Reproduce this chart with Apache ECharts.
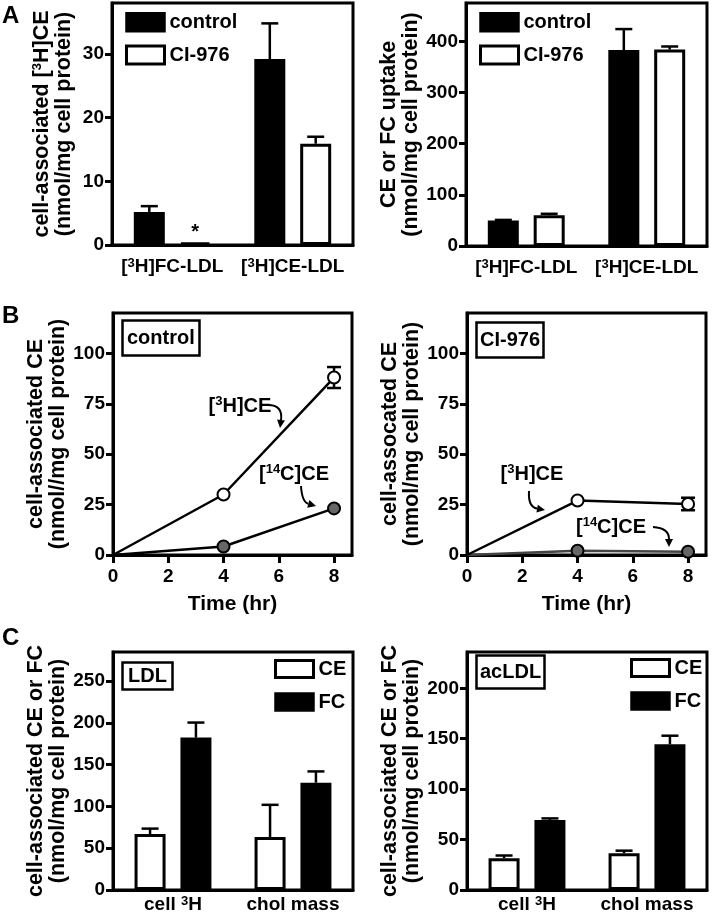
<!DOCTYPE html>
<html><head><meta charset="utf-8">
<script src="https://cdn.jsdelivr.net/npm/echarts@6/dist/echarts.min.js"></script>
<style>html,body{margin:0;padding:0;background:#fff}#c{width:714px;height:916px}</style>
</head><body><div id="c"></div>
<script>
// ---------------- data ----------------
const catsA = ['[^3H]FC-LDL', '[^3H]CE-LDL'];
const a1Control = [5.2, 29.2];
const a1ControlSem = [0.9, 5.6];
const a1CI = [0.4, 15.9];
const a1CISem = [0, 1.1];
const a1Ticks = [0, 10, 20, 30];

const a2Control = [50, 383];
const a2ControlSem = [1, 41];
const a2CI = [60, 384];
const a2CISem = [3, 6];
const a2Ticks = [0, 100, 200, 300, 400];

const timesB = [0, 4, 8];
const bXTicks = [0, 2, 4, 6, 8];
const bYTicks = [0, 25, 50, 75, 100];
const b1H3 = [0, 30, 88];
const b1H3Sem = [0, 0, 5.2];
const b1C14 = [0, 4.2, 23.1];
const b2H3 = [0, 27, 25.3];
const b2H3Sem = [0, 0, 3.1];
const b2C14 = [0, 2.1, 1.6];

const catsC = ['cell ^3H', 'chol mass'];
const c1CE = [67, 63.5];
const c1CESem = [6.5, 38.5];
const c1FC = [182.5, 128.5];
const c1FCSem = [18, 13.5];
const c1Ticks = [0, 50, 100, 150, 200, 250];
const c2CE = [31.5, 36.5];
const c2CESem = [2.7, 2.5];
const c2FC = [69.5, 144.5];
const c2FCSem = [1.5, 8.5];
const c2Ticks = [0, 50, 100, 150, 200];

// ---------------- style ----------------
const FONT = 'Liberation Sans, Arial, Helvetica, sans-serif';
const BAR_W = 31, BAR_GAP = 0.48;
const OFF = BAR_W * (1 + BAR_GAP) / 2;
const sup = s => s.replace(/\^(\d+)/g, '{s|$1}');
const rich = { s: { fontSize: 13, fontWeight: 'bold', fontFamily: FONT, color: '#000', verticalAlign: 'top', lineHeight: 13 } };

const grids = [
  { left: 112, top: 3, width: 241, height: 242 },
  { left: 466, top: 3, width: 241, height: 243 },
  { left: 113, top: 313, width: 239, height: 242 },
  { left: 467, top: 313, width: 239, height: 242 },
  { left: 113, top: 652, width: 240, height: 238 },
  { left: 467, top: 652, width: 240, height: 238 }
].map(g => Object.assign(g, { show: true, borderColor: '#000', borderWidth: 3, containLabel: false }));

const lineSt = { color: '#000', width: 3 };
function catX(gi, cats, margin) {
  return {
    type: 'category', gridIndex: gi, data: cats, boundaryGap: true,
    axisLine: { lineStyle: lineSt },
    axisTick: { alignWithLabel: true, interval: 0, length: 8, lineStyle: lineSt },
    axisLabel: { interval: 0, formatter: v => sup(v), rich, fontSize: 19, fontWeight: 'bold', fontFamily: FONT, color: '#000', margin },
    splitLine: { show: false }
  };
}
function valY(gi, max, ticks, name, nameGap) {
  return {
    type: 'value', gridIndex: gi, min: 0, max, interval: ticks[1] - ticks[0],
    axisLine: { show: true, lineStyle: lineSt },
    axisTick: { show: true, length: 7, lineStyle: lineSt, customValues: ticks },
    axisLabel: { customValues: ticks, fontSize: 19, fontWeight: 'bold', fontFamily: FONT, color: '#000', margin: 8 },
    splitLine: { show: false },
    name: sup(name), nameLocation: 'middle', nameRotate: 90, nameGap,
    nameTextStyle: { fontSize: 21.5, fontWeight: 'bold', fontFamily: FONT, color: '#000', lineHeight: 22, rich }
  };
}
function valX(gi) {
  return {
    type: 'value', gridIndex: gi, min: 0, max: 8.65, interval: 2,
    axisLine: { show: true, lineStyle: lineSt },
    axisTick: { show: true, length: 8, lineStyle: lineSt, customValues: bXTicks },
    axisLabel: { customValues: bXTicks, fontSize: 19, fontWeight: 'bold', fontFamily: FONT, color: '#000', margin: 12 },
    splitLine: { show: false },
    name: 'Time (hr)', nameLocation: 'middle', nameGap: 39,
    nameTextStyle: { fontSize: 21, fontWeight: 'bold', fontFamily: FONT, color: '#000' }
  };
}
const blackBar = { color: '#000', borderColor: '#000', borderWidth: 2.5 };
const whiteBar = { color: '#fff', borderColor: '#000', borderWidth: 3 };
function bar(gi, name, data, st) {
  return { type: 'bar', name, xAxisIndex: gi, yAxisIndex: gi, data, barWidth: BAR_W, barGap: (BAR_GAP * 100) + '%', itemStyle: st, z: 3 };
}
function barErr(gi, vals, sems, offset) {
  return {
    type: 'custom', xAxisIndex: gi, yAxisIndex: gi, silent: true, z: 2,
    data: vals.map((v, i) => [i, v, v + sems[i], sems[i]]),
    renderItem: (params, api) => {
      if (api.value(3) <= 0) return null;
      const p0 = api.coord([api.value(0), api.value(1)]);
      const p1 = api.coord([api.value(0), api.value(2)]);
      const x = p0[0] + offset, cw = 17;
      return { type: 'group', children: [
        { type: 'line', shape: { x1: x, y1: p0[1], x2: x, y2: p1[1] }, style: { stroke: '#000', lineWidth: 2.5 } },
        { type: 'line', shape: { x1: x - cw / 2, y1: p1[1], x2: x + cw / 2, y2: p1[1] }, style: { stroke: '#000', lineWidth: 2.5 } }
      ] };
    }
  };
}
function lineErr(gi, vals, sems) {
  return {
    type: 'custom', xAxisIndex: gi, yAxisIndex: gi, silent: true, z: 2,
    data: timesB.map((t, i) => [t, vals[i] - sems[i], vals[i] + sems[i], sems[i]]),
    renderItem: (params, api) => {
      if (api.value(3) <= 0) return null;
      const lo = api.coord([api.value(0), api.value(1)]);
      const hi = api.coord([api.value(0), api.value(2)]);
      const x = lo[0], cw = 14;
      const st = { stroke: '#000', lineWidth: 2.5 };
      return { type: 'group', children: [
        { type: 'line', shape: { x1: x, y1: lo[1], x2: x, y2: hi[1] }, style: st },
        { type: 'line', shape: { x1: x - cw / 2, y1: lo[1], x2: x + cw / 2, y2: lo[1] }, style: st },
        { type: 'line', shape: { x1: x - cw / 2, y1: hi[1], x2: x + cw / 2, y2: hi[1] }, style: st }
      ] };
    }
  };
}
function line(gi, name, vals, fill, lineColor, z) {
  return {
    type: 'line', name, xAxisIndex: gi, yAxisIndex: gi, z,
    data: timesB.map((t, i) => i === 0 ? { value: [t, vals[i]], symbol: 'none' } : [t, vals[i]]),
    symbol: 'circle', symbolSize: 12,
    itemStyle: { color: fill, borderColor: '#000', borderWidth: 2 },
    lineStyle: { color: lineColor, width: 2.5 }
  };
}
const legTxt = { fontSize: 20, fontWeight: 'bold', fontFamily: FONT, color: '#000' };
function legend(left, top, items, h, gap) {
  return { left, top, orient: 'vertical', icon: 'rect', itemWidth: 38, itemHeight: h, itemGap: gap, padding: 0,
    selectedMode: false, textStyle: legTxt, data: items };
}
const titleTxt = { fontSize: 20, fontWeight: 'bold', fontFamily: FONT, color: '#000' };
function boxTitle(text, left, top, padding) {
  return { text, left, top, padding, borderColor: '#000', borderWidth: 2.5, textStyle: titleTxt };
}
function letter(text, left, top) {
  return { text, left, top, padding: 0, textStyle: { fontSize: 24, fontWeight: 'bold', fontFamily: FONT, color: '#000' } };
}

const a1CIData = a1CI.map((v, i) => i === 0
  ? { value: v, label: { show: true, position: 'top', formatter: '*', distance: 0, fontSize: 20, fontWeight: 'bold', fontFamily: FONT, color: '#000' } }
  : v);

const option = {
  animation: false,
  backgroundColor: '#fff',
  grid: grids,
  xAxis: [catX(0, catsA, 12), catX(1, catsA, 12), valX(2), valX(3), catX(4, catsC, 5), catX(5, catsC, 5)],
  yAxis: [
    valY(0, 38, a1Ticks, 'cell-associated [^3H]CE\n(nmol/mg cell protein)', 37),
    valY(1, 475, a2Ticks, 'CE or FC uptake\n(nmol/mg cell protein)', 41),
    valY(2, 120, bYTicks, 'cell-associated CE\n(nmol//mg cell protein)', 40),
    valY(3, 120, bYTicks, 'cell-assocated CE\n(nmol/mg cell protein)', 39),
    valY(4, 285, c1Ticks, 'cell-associated CE or FC\n(nmol/mg cell protein)', 42),
    valY(5, 236, c2Ticks, 'cell-associated CE or FC\n(nmol/mg cell protein)', 42)
  ],
  legend: [
    legend(125, 12, [{ name: 'control', itemStyle: blackBar }, { name: 'CI-976', itemStyle: whiteBar }], 18, 12),
    legend(479, 12, [{ name: 'control', itemStyle: blackBar }, { name: 'CI-976', itemStyle: whiteBar }], 18, 12),
    legend(274, 659, [{ name: 'CE', itemStyle: whiteBar }, { name: 'FC', itemStyle: blackBar }], 17, 13),
    legend(630, 658, [{ name: 'CE', itemStyle: whiteBar }, { name: 'FC', itemStyle: blackBar }], 17, 13)
  ],
  title: [
    letter('A', 2, 4), letter('B', 2, 304), letter('C', 2, 626),
    boxTitle('control', 122, 320, [8, 5]),
    boxTitle('CI-976', 476, 322, [8, 4]),
    boxTitle('LDL', 122, 662, [4, 6]),
    boxTitle('acLDL', 476, 655, [7, 4])
  ],
  series: [
    bar(0, 'control', a1Control, blackBar), bar(0, 'CI-976', a1CIData, whiteBar),
    barErr(0, a1Control, a1ControlSem, -OFF), barErr(0, a1CI, a1CISem, OFF),
    bar(1, 'control', a2Control, blackBar), bar(1, 'CI-976', a2CI, whiteBar),
    barErr(1, a2Control, a2ControlSem, -OFF), barErr(1, a2CI, a2CISem, OFF),
    line(2, 'ctrl 14C', b1C14, '#666', '#000', 3), line(2, 'ctrl 3H', b1H3, '#fff', '#000', 4),
    lineErr(2, b1H3, b1H3Sem),
    line(3, 'CI 14C', b2C14, '#666', '#444', 3), line(3, 'CI 3H', b2H3, '#fff', '#000', 4),
    lineErr(3, b2H3, b2H3Sem),
    bar(4, 'CE', c1CE, whiteBar), bar(4, 'FC', c1FC, blackBar),
    barErr(4, c1CE, c1CESem, -OFF), barErr(4, c1FC, c1FCSem, OFF),
    bar(5, 'CE', c2CE, whiteBar), bar(5, 'FC', c2FC, blackBar),
    barErr(5, c2CE, c2CESem, -OFF), barErr(5, c2FC, c2FCSem, OFF)
  ]
};

// annotation helpers (label text + curved arrows)
function annText(text, x, y) {
  return { type: 'text', x, y, z: 10, style: { text: sup(text), rich, fontSize: 20, fontWeight: 'bold', fontFamily: FONT,
    fill: '#000', align: 'center', verticalAlign: 'middle', lineHeight: 22 } };
}
function arrow(x1, y1, cx, cy, x2, y2) {
  const ang = Math.atan2(y2 - cy, x2 - cx);
  const L = 8, W = 4;
  const bx = x2 - L * Math.cos(ang), by = y2 - L * Math.sin(ang);
  const px = -Math.sin(ang) * W, py = Math.cos(ang) * W;
  return [
    { type: 'bezierCurve', z: 10, shape: { x1, y1, x2: bx, y2: by, cpx1: cx, cpy1: cy }, style: { stroke: '#000', lineWidth: 2, fill: null } },
    { type: 'polygon', z: 10, shape: { points: [[x2, y2], [bx + px, by + py], [bx - px, by - py]] }, style: { fill: '#000' } }
  ];
}
option.graphic = [
  annText('[^3H]CE', 240, 406),
  ...arrow(268, 405, 283, 405, 280, 428),
  annText('[^14C]CE', 294, 474),
  ...arrow(301, 486, 302, 502, 316, 506),
  annText('[^3H]CE', 532, 474),
  ...arrow(529, 491, 528, 507, 545, 510),
  annText('[^14C]CE', 611, 527),
  ...arrow(653, 527, 669, 528, 669, 547)
];

const chart = echarts.init(document.getElementById('c'), null, { renderer: 'canvas' });
chart.setOption(option);
</script>
</body></html>
